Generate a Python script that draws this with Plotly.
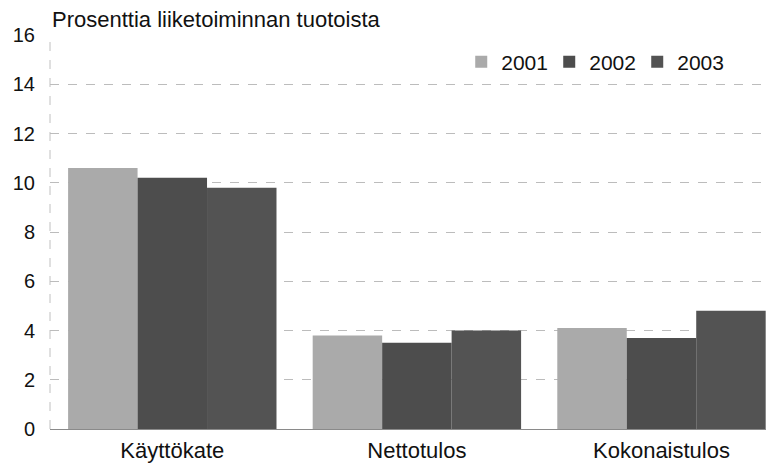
import plotly.graph_objects as go

categories = ["Käyttökate", "Nettotulos", "Kokonaistulos"]
years = ["2001", "2002", "2003"]
v2001 = [10.6, 3.8, 4.1]
v2002 = [10.2, 3.5, 3.7]
v2003 = [9.8, 4.0, 4.8]
series = [v2001, v2002, v2003]
colors = ["#aaaaaa", "#4d4d4d", "#535353"]
yticks = [0, 2, 4, 6, 8, 10, 12, 14, 16]
title_text = "Prosenttia liiketoiminnan tuotoista"

fig = go.Figure()
for name, vals, c in zip(years, series, colors):
    fig.add_trace(go.Bar(x=categories, y=vals, name=name, marker=dict(color=c, line=dict(width=0))))

font = "Liberation Sans, Arial, sans-serif"
fig.update_layout(
    width=766, height=456,
    margin=dict(l=42, r=0, t=27, b=35, autoexpand=False),
    paper_bgcolor="white", plot_bgcolor="white",
    barmode="group", bargap=0.148, bargroupgap=0,
    font=dict(family=font, size=20, color="#111111"),
    showlegend=True,
    legend=dict(orientation="h", x=0.568, y=0.931, xanchor="left", yanchor="middle",
                font=dict(size=21, family=font, color="#111111"),
                bgcolor="rgba(0,0,0,0)", itemwidth=30, entrywidth=43,
                traceorder="normal"),
    annotations=[dict(text=title_text, xref="x domain", yref="paper", x=0.0, y=1.039,
                      showarrow=False, xanchor="left", yanchor="middle",
                      font=dict(size=22, family=font, color="#111111"))],
    shapes=[dict(type="line", xref="x domain", yref="y domain", x0=0, x1=0, y0=0, y1=1,
                 line=dict(color="#c0c0c0", width=1, dash="dash"), layer="below")],
)
fig.update_xaxes(range=[-0.5, 2.46], showgrid=False, showline=False, ticks="", automargin=False,
                 ticklabelstandoff=6,
                 tickfont=dict(size=22, family=font, color="#111111"))
fig.update_yaxes(range=[0, 16], tickvals=yticks, showgrid=True, gridcolor="#bcbcbc",
                 griddash="dash", gridwidth=1, zeroline=True, zerolinecolor="#8a8a8a",
                 zerolinewidth=1, showline=False, automargin=False,
                 ticklabelstandoff=14,
                 ticks="", ticklen=0, tickfont=dict(size=20, family=font, color="#111111"))
fig.write_html("out.html")
